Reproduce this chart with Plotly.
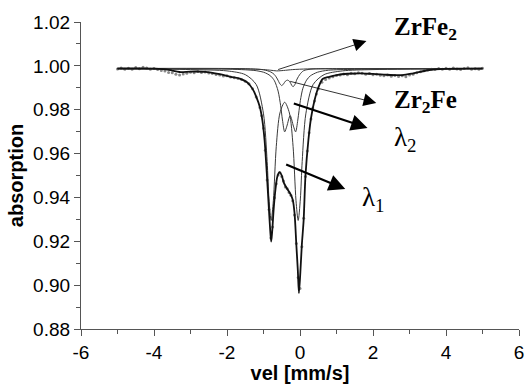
import plotly.graph_objects as go

data_vel = [-5.0, -4.9, -4.8, -4.7, -4.6, -4.5, -4.4, -4.3, -4.2, -4.1, -4.0, -3.9, -3.8, -3.7, -3.6,
            -3.5, -3.4, -3.3, -3.2, -3.1, -3.0, -2.9, -2.8, -2.7, -2.6, -2.5, -2.4, -2.3, -2.2, -2.1,
            -2.0, -1.9, -1.8, -1.7, -1.6, -1.5, -1.4, -1.3, -1.2, -1.1, -1.05, -1.0, -0.95, -0.9, -0.85,
            -0.8, -0.75, -0.7, -0.65, -0.6, -0.55, -0.5, -0.45, -0.4, -0.35, -0.3, -0.25, -0.2, -0.15,
            -0.1, -0.05, 0.0, 0.05, 0.1, 0.15, 0.2, 0.25, 0.3, 0.35, 0.4, 0.45, 0.5, 0.6, 0.7, 0.8,
            0.9, 1.0, 1.1, 1.2, 1.3, 1.4, 1.5, 1.6, 1.7, 1.8, 1.9, 2.0, 2.1, 2.2, 2.3, 2.4, 2.5, 2.6,
            2.7, 2.8, 2.9, 3.0, 3.1, 3.2, 3.3, 3.4, 3.5, 3.6, 3.7, 3.8, 3.9, 4.0, 4.1, 4.2, 4.3, 4.4,
            4.5, 4.6, 4.7, 4.8, 4.9, 5.0]
data_abs = [0.9986, 0.9990, 0.9984, 0.9989, 0.9985, 0.9992, 0.9987, 0.9994, 0.9990, 0.9985, 0.9988,
            0.9983, 0.9979, 0.9976, 0.9970, 0.9968, 0.9962, 0.9958, 0.9963, 0.9966, 0.9971, 0.9969,
            0.9974, 0.9970, 0.9972, 0.9967, 0.9965, 0.9961, 0.9958, 0.9954, 0.9955, 0.9949, 0.9946,
            0.9942, 0.9938, 0.9930, 0.9918, 0.9896, 0.9858, 0.9810, 0.9772, 0.9715, 0.9615, 0.9480,
            0.9345, 0.9215, 0.9265, 0.9398, 0.9462, 0.9502, 0.9512, 0.9495, 0.9475, 0.9448, 0.9440,
            0.9422, 0.9410, 0.9385, 0.9320, 0.9190, 0.9035, 0.8985, 0.9175, 0.9305, 0.9495, 0.9612,
            0.9695, 0.9758, 0.9808, 0.9840, 0.9872, 0.9895, 0.9925, 0.9938, 0.9945, 0.9950, 0.9956,
            0.9958, 0.9963, 0.9960, 0.9966, 0.9964, 0.9968, 0.9966, 0.9962, 0.9965, 0.9960, 0.9962,
            0.9957, 0.9955, 0.9958, 0.9953, 0.9956, 0.9952, 0.9955, 0.9950, 0.9958, 0.9962, 0.9968,
            0.9973, 0.9978, 0.9981, 0.9985, 0.9983, 0.9988, 0.9984, 0.9989, 0.9985, 0.9990, 0.9986,
            0.9983, 0.9988, 0.9991, 0.9985, 0.9987, 0.9984, 0.9989]

# ---- fitted envelope ----
fit_vel = [-5.0, -4.5, -4.0, -3.6, -3.3, -3.0, -2.6, -2.2, -1.9, -1.65, -1.45, -1.3, -1.2, -1.1,
           -1.03, -0.97, -0.91, -0.86, -0.82, -0.79, -0.76, -0.72, -0.67, -0.62, -0.56, -0.50, -0.45,
           -0.39, -0.33, -0.26, -0.20, -0.15, -0.10, -0.06, -0.03, 0.01, 0.05, 0.10, 0.15, 0.23,
           0.30, 0.40, 0.50, 0.62, 0.80, 1.0, 1.3, 1.7, 2.0, 2.3, 2.8, 3.1, 3.5, 4.0, 4.5, 5.0]
fit_abs = [0.9988, 0.9988, 0.9987, 0.9982, 0.9972, 0.9974, 0.9973, 0.9962, 0.9950, 0.9942, 0.9925,
           0.9895, 0.9860, 0.9812, 0.9750, 0.9660, 0.9510, 0.9370, 0.9260, 0.9198, 0.9250, 0.9350,
           0.9440, 0.9495, 0.9515, 0.9500, 0.9470, 0.9450, 0.9434, 0.9415, 0.9390, 0.9329, 0.9183,
           0.9069, 0.8964, 0.9060, 0.9183, 0.9297, 0.9500, 0.9662, 0.9760, 0.9844, 0.9900, 0.9940,
           0.9950, 0.9958, 0.9964, 0.9966, 0.9963, 0.9960, 0.9958, 0.9966, 0.9980, 0.9986, 0.9987,
           0.9988]

# ---- subspectra ----
l1_vel = [-5.0, -3.0, -2.0, -1.5, -1.2, -1.0, -0.9, -0.85, -0.79, -0.73, -0.65, -0.55, -0.42, -0.29,
          -0.19, -0.11, -0.05, 0.01, 0.06, 0.16, 0.36, 0.66, 1.16, 2.0, 5.0]
l1_abs = [0.9987, 0.9983, 0.9977, 0.9960, 0.9915, 0.9781, 0.9564, 0.9393, 0.9295, 0.9386, 0.9633,
          0.9785, 0.9834, 0.9785, 0.9633, 0.9386, 0.9295, 0.9393, 0.9564, 0.9781, 0.9915, 0.9960,
          0.9977, 0.9983, 0.9987]

l2_vel = [-5.0, -2.0, -1.5, -1.2, -1.0, -0.9, -0.8, -0.7, -0.6, -0.53, -0.48, -0.42, -0.36, -0.27,
          -0.18, -0.12, -0.06, 0.01, 0.08, 0.18, 0.28, 0.48, 0.78, 1.5, 5.0]
l2_abs = [0.9987, 0.9985, 0.9982, 0.9978, 0.9971, 0.9964, 0.9953, 0.9932, 0.9885, 0.9818, 0.9753,
          0.9699, 0.9725, 0.9773, 0.9725, 0.9699, 0.9753, 0.9842, 0.9898, 0.9935, 0.9954, 0.9971,
          0.9980, 0.9984, 0.9987]

zr2fe_vel = [-5.0, -1.5, -1.0, -0.8, -0.7, -0.62, -0.55, -0.50, -0.45, -0.40, -0.34, -0.28, -0.23,
             -0.19, -0.14, -0.08, 0.0, 0.1, 0.3, 1.0, 5.0]
zr2fe_abs = [0.9988, 0.9987, 0.9982, 0.9972, 0.9960, 0.9940, 0.9918, 0.9910, 0.9918, 0.9930, 0.9935,
             0.9928, 0.9912, 0.9905, 0.9915, 0.9940, 0.9962, 0.9978, 0.9985, 0.9987, 0.9988]

zrfe2_vel = [-5.0, -1.5, -1.0, -0.8, -0.64, -0.45, -0.2, 0.2, 1.0, 5.0]
zrfe2_abs = [0.9988, 0.9986, 0.9983, 0.9980, 0.9977, 0.9979, 0.9983, 0.9986, 0.9987, 0.9988]

x_ticks = [-6, -4, -2, 0, 2, 4, 6]
y_ticks = [0.88, 0.90, 0.92, 0.94, 0.96, 0.98, 1.00, 1.02]

fig = go.Figure()
fig.add_trace(go.Scatter(x=data_vel, y=data_abs, mode="markers",
                         marker=dict(size=3, color="#8a8a8a", symbol="circle"), showlegend=False))
for xv, yv in [(zrfe2_vel, zrfe2_abs), (zr2fe_vel, zr2fe_abs), (l2_vel, l2_abs), (l1_vel, l1_abs)]:
    fig.add_trace(go.Scatter(x=xv, y=yv, mode="lines",
                             line=dict(color="#3a3a3a", width=1, shape="spline", smoothing=0.8),
                             showlegend=False))
fig.add_trace(go.Scatter(x=fit_vel, y=fit_abs, mode="lines",
                         line=dict(color="#111111", width=1.8, shape="spline", smoothing=0.8),
                         showlegend=False))

arrows = [  # (tip_x, tip_y, tail_x, tail_y, width)
    (1.82, 1.0113, -0.64, 0.9981, 0.8),
    (2.09, 0.9831, -0.31, 0.9931, 0.8),
    (1.85, 0.9717, -0.21, 0.9831, 2.2),
    (1.24, 0.9438, -0.42, 0.9553, 2.2),
]
for tx, ty, sx, sy, w in arrows:
    fig.add_annotation(x=tx, y=ty, ax=sx, ay=sy, xref="x", yref="y", axref="x", ayref="y",
                       text="", showarrow=True, arrowhead=2, arrowwidth=w,
                       arrowsize=3.2 if w < 1 else 1.5, arrowcolor="#000")

labels = [("<b>ZrFe<sub>2</sub></b>", 2.53, 1.0170, 25),
          ("<b>Zr<sub>2</sub>Fe</b>", 2.53, 0.9838, 25),
          ("λ<sub>2</sub>", 2.53, 0.9665, 27),
          ("λ<sub>1</sub>", 1.63, 0.9395, 27)]
for t, x, y, s in labels:
    fig.add_annotation(x=x, y=y, xref="x", yref="y", text=t, showarrow=False, xanchor="left",
                       yanchor="middle", font=dict(family="Liberation Serif", size=s, color="#000"))

axis_common = dict(showgrid=False, zeroline=False, showline=True, linecolor="#555", linewidth=1.3,
                   ticks="outside", ticklen=6, tickcolor="#555", tickwidth=1.2, automargin=False,
                   ticklabeloverflow="allow",
                   tickfont=dict(family="Liberation Sans", size=19, color="#000"))
fig.update_xaxes(range=[-6, 6], tickvals=x_ticks, ticktext=[str(v) for v in x_ticks],
                 minor=dict(dtick=1, ticks="outside", ticklen=4, tickcolor="#555"),
                 title=dict(text="<b>vel [mm/s]</b>", font=dict(family="Liberation Sans", size=20, color="#000"),
                            standoff=2),
                 **axis_common)
fig.update_yaxes(range=[0.88, 1.02], tickvals=y_ticks, ticktext=[f"{v:.2f}" for v in y_ticks],
                 minor=dict(dtick=0.01, tick0=0.88, ticks="outside", ticklen=4, tickcolor="#555"),
                 title=dict(text="<b>absorption</b>", font=dict(family="Liberation Sans", size=20, color="#000"),
                            standoff=4),
                 **axis_common)
fig.update_layout(width=525, height=384, margin=dict(l=81, r=6, t=22, b=55),
                  plot_bgcolor="white", paper_bgcolor="white", showlegend=False)
# remove the default page margin so the 525x384 figure fills the window exactly
fig.write_html("out.html", config={"displayModeBar": False},
               post_script="document.body.style.margin='0';document.body.style.overflow='hidden';")
